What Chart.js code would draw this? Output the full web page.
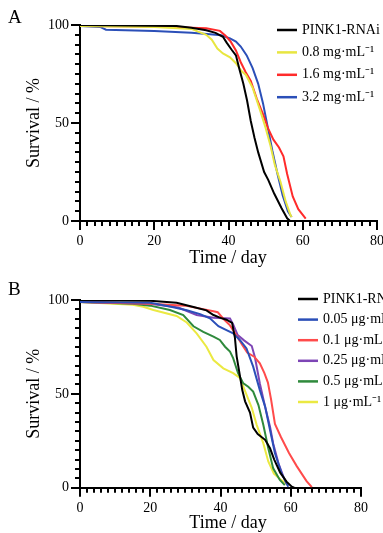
<!DOCTYPE html>
<html>
<head>
<meta charset="utf-8">
<script src="https://cdn.jsdelivr.net/npm/chart.js@4.4.1/dist/chart.umd.min.js"></script>
<style>
  html, body { margin: 0; padding: 0; background: #fff; overflow: hidden; }
  body { width: 383px; height: 533px; position: relative; }
  canvas { position: absolute; left: 0; }
  #chartA { top: 0; }
  #chartB { top: 262px; }
</style>
</head>
<body>
<canvas id="chartA" width="383" height="280"></canvas>
<canvas id="chartB" width="383" height="280"></canvas>
<script>
// Panel A: survival (%) against time (day)
const aCtrlDay = [0, 26, 30, 34, 36.5, 38.5, 39.5, 40.8, 42, 43, 44, 45, 46, 47, 48, 49.6, 50.7, 52.3, 54.3, 55.8, 56.6];
const aCtrlSurv = [100, 99.5, 98.6, 97.3, 96, 94, 91, 87.5, 84.5, 77, 70, 61.5, 51, 42.5, 35, 25, 21, 14, 6.5, 1.4, 0];
const a08Day = [0, 20, 30, 34, 35.5, 37, 38.5, 40.4, 42, 43.5, 44.7, 46.5, 48.5, 50, 51.3, 52.5, 54, 55.4, 56.6, 57];
const a08Surv = [99.5, 99, 98, 95, 92.5, 88, 85.5, 83.5, 80.5, 76.5, 74.5, 68, 56.6, 47.5, 38.5, 28.5, 20, 10, 3.5, 2];
const a16Day = [0, 20, 34, 37.7, 39.2, 40.6, 42, 43.3, 44.6, 46, 47.6, 49.4, 50.6, 52.1, 53.6, 54.8, 55.8, 57.3, 58.8, 60.8];
const a16Surv = [99.5, 99.2, 98.3, 97, 94.5, 91.5, 87, 81, 76, 71.5, 62.5, 54, 47.5, 41.5, 37.5, 33, 24, 12.5, 6, 1.2];
const a32Day = [0, 5.4, 7, 20, 30, 35, 38, 40.4, 42, 43.3, 44.9, 46.5, 48, 49.3, 50.5, 51.8, 53.2, 54.6, 56, 57];
const a32Surv = [99.5, 99, 97.6, 97, 96, 95.3, 94.8, 93.2, 91.5, 89, 84.5, 78, 70, 60, 48.5, 36, 24, 13, 5, 2];
const aLabels = ['PINK1-RNAi', '0.8 mg·mL⁻¹', '1.6 mg·mL⁻¹', '3.2 mg·mL⁻¹'];

// Panel B
const bCtrlDay = [0, 20, 27.5, 32.3, 36, 38, 40, 41.7, 43.3, 44.1, 44.6, 45.4, 46.2, 47, 48.4, 49.3, 50.6, 52.7, 54.1, 55.3, 57, 58.8, 60.3, 61];
const bCtrlSurv = [100, 99.6, 98.5, 96.3, 94.5, 92, 90.5, 89.5, 87.8, 80, 70, 61, 52, 46, 40, 32, 28.6, 25.5, 21, 15, 8, 3.2, 0.5, 0];
const b005Day = [0, 20, 25.6, 30.4, 34.2, 37, 39.4, 41.7, 43.6, 45.5, 47.4, 49.3, 51.2, 52.7, 54.1, 55.5, 57.4, 58.8, 59.3];
const b005Surv = [99, 98.5, 96.5, 94.5, 92.5, 90.2, 86, 84, 82.2, 78.7, 74.2, 64.5, 52, 43.2, 30.7, 18.3, 7.6, 2.3, 0.5];
const b01Day = [0, 20, 30, 38, 39.2, 40.8, 42.7, 44.6, 46.2, 47.6, 49.6, 51.2, 52.5, 53.5, 54.4, 55.5, 57.2, 59.5, 61.7, 64.5, 66];
const b01Surv = [99, 98, 97, 94, 93.5, 90, 86.5, 81, 76, 72, 69.8, 66.3, 61, 56, 47, 34, 27, 18.5, 11.5, 3.5, 0.3];
const b025Day = [0, 20, 28, 33.2, 38, 42.7, 43.6, 44.9, 46.7, 48.9, 49.8, 51.2, 52.7, 54.1, 55, 56.5, 57.9, 58.8];
const b025Surv = [99, 98, 96, 92, 90.5, 90.2, 87, 81.3, 78.5, 75.5, 69.5, 55.5, 43.2, 32.5, 23.6, 13, 5.9, 2.3];
const b05Day = [0, 15, 20, 25.6, 29.4, 32.3, 35.1, 38, 39.8, 41.3, 42.7, 43.6, 45, 46.5, 47.9, 49.3, 50.8, 52.2, 53.6, 55, 56.9, 58.3];
const b05Surv = [99, 98, 97, 94.7, 92, 86, 83, 80.5, 78.7, 75.1, 72.5, 69, 61, 55.6, 53.8, 51.2, 44, 33.4, 21, 10.3, 4.1, 1.4];
const b1Day = [0, 15, 18, 20.9, 27.5, 30.4, 33.2, 36, 38, 40.8, 43.6, 45.5, 47, 48.9, 50.3, 52.2, 53.6, 55.2, 57, 59.3];
const b1Surv = [99, 97.5, 96.4, 94.7, 91.5, 88, 82.2, 75.1, 68, 63.6, 61, 58.5, 51.5, 42.5, 33.5, 23.6, 14, 7.5, 4.5, 1.4];
const bLabels = ['PINK1-RNAi', '0.05 μg·mL⁻¹', '0.1 μg·mL⁻¹', '0.25 μg·mL⁻¹', '0.5 μg·mL⁻¹', '1 μg·mL⁻¹'];

const serif = "'Liberation Serif', 'Times New Roman', serif";

function series(label, days, surv, color) {
  return {
    label,
    data: days.map((d, i) => ({ x: d, y: surv[i] })),
    borderColor: color,
    backgroundColor: color,
    borderWidth: 2,
    pointRadius: 0,
    tension: 0
  };
}

// comb ticks below / left of the axes, longer at the labelled values
const axisTicks = {
  id: 'axisTicks',
  afterDraw(chart) {
    const { ctx, scales: { x, y } } = chart;
    const area = chart.chartArea;
    ctx.save();
    ctx.strokeStyle = '#000';
    ctx.lineWidth = 2;
    x.ticks.forEach(t => {
      const px = Math.round(x.getPixelForValue(t.value));
      const len = t.value % 20 === 0 ? 9 : 5;
      ctx.beginPath();
      ctx.moveTo(px, area.bottom);
      ctx.lineTo(px, area.bottom + len);
      ctx.stroke();
    });
    y.ticks.forEach(t => {
      const py = Math.round(y.getPixelForValue(t.value));
      const len = t.value % 50 === 0 ? 9 : 5;
      ctx.beginPath();
      ctx.moveTo(area.left - len, py);
      ctx.lineTo(area.left, py);
      ctx.stroke();
    });
    ctx.restore();
  }
};

// legend, panel letter and x title
const panelDecor = {
  id: 'panelDecor',
  afterDraw(chart, args, opts) {
    const { ctx } = chart;
    ctx.save();
    ctx.font = '14px ' + serif;
    ctx.textBaseline = 'middle';
    ctx.textAlign = 'left';
    chart.data.datasets.forEach((ds, i) => {
      const ly = opts.legendY + i * opts.legendGap;
      ctx.strokeStyle = ds.borderColor;
      ctx.lineWidth = 2.5;
      ctx.beginPath();
      ctx.moveTo(opts.legendX, ly);
      ctx.lineTo(opts.legendX + 20, ly);
      ctx.stroke();
      ctx.fillStyle = '#000';
      ctx.fillText(ds.label, opts.legendX + 25, ly);
    });
    ctx.textBaseline = 'alphabetic';
    ctx.font = '19px ' + serif;
    ctx.fillText(opts.letter, 8, opts.letterY);
    ctx.font = '18px ' + serif;
    ctx.textAlign = 'center';
    ctx.fillText('Time / day', 228, opts.titleY);
    ctx.restore();
  }
};

function makeOptions(pad, xHeight, decor) {
  return {
    responsive: false,
    animation: false,
    devicePixelRatio: 1,
    layout: { padding: pad },
    plugins: {
      legend: { display: false },
      tooltip: { enabled: false },
      panelDecor: decor
    },
    scales: {
      x: {
        type: 'linear',
        min: 0,
        max: 80,
        afterFit: scale => {
          scale.height = xHeight;
          scale.paddingLeft = 0;
          scale.paddingRight = 0;
        },
        border: { color: '#000', width: 2 },
        grid: { drawOnChartArea: false, drawTicks: false },
        ticks: {
          stepSize: 2,
          autoSkip: false,
          maxTicksLimit: 100,
          maxRotation: 0,
          padding: 12,
          color: '#000',
          font: { family: serif, size: 14 },
          callback: v => (v % 20 === 0 ? v : '')
        }
      },
      y: {
        min: 0,
        max: 100,
        afterFit: scale => { scale.width = 80; },
        border: { color: '#000', width: 2 },
        grid: { drawOnChartArea: false, drawTicks: false },
        title: {
          display: true,
          text: 'Survival / %',
          color: '#000',
          font: { family: serif, size: 18 },
          padding: { top: 23, bottom: 0 }
        },
        ticks: {
          stepSize: 5,
          autoSkip: false,
          maxTicksLimit: 100,
          padding: 11,
          color: '#000',
          font: { family: serif, size: 14 },
          callback: v => (v % 50 === 0 ? v : '')
        }
      }
    }
  };
}

new Chart(document.getElementById('chartA'), {
  type: 'line',
  data: {
    datasets: [
      series(aLabels[0], aCtrlDay, aCtrlSurv, '#000000'),
      series(aLabels[1], a08Day, a08Surv, '#e8e640'),
      series(aLabels[2], a16Day, a16Surv, '#ff2b2b'),
      series(aLabels[3], a32Day, a32Surv, '#2b4fb8')
    ]
  },
  options: makeOptions({ top: 25, right: 6, left: 0, bottom: 0 }, 59,
    { legendX: 277, legendY: 30, legendGap: 22.4, letter: 'A', letterY: 23, titleY: 263 }),
  plugins: [axisTicks, panelDecor]
});

new Chart(document.getElementById('chartB'), {
  type: 'line',
  data: {
    datasets: [
      series(bLabels[0], bCtrlDay, bCtrlSurv, '#000000'),
      series(bLabels[1], b005Day, b005Surv, '#2b4fb8'),
      series(bLabels[2], b01Day, b01Surv, '#ff4b4b'),
      series(bLabels[3], b025Day, b025Surv, '#7d45b5'),
      series(bLabels[4], b05Day, b05Surv, '#2f8a3c'),
      series(bLabels[5], b1Day, b1Surv, '#ebe942')
    ]
  },
  options: makeOptions({ top: 38, right: 22, left: 0, bottom: 0 }, 54.3,
    { legendX: 298, legendY: 37, legendGap: 20.6, letter: 'B', letterY: 33, titleY: 266 }),
  plugins: [axisTicks, panelDecor]
});
</script>
</body>
</html>
